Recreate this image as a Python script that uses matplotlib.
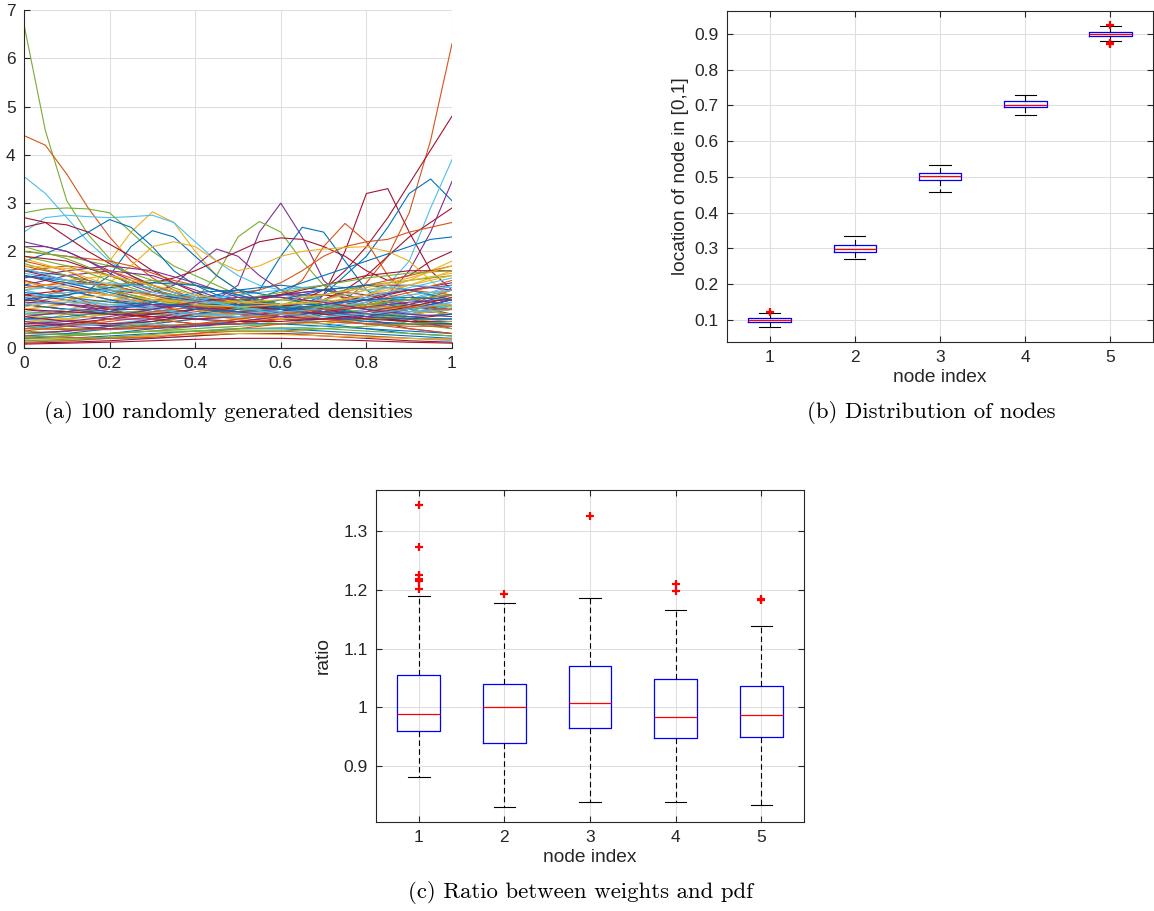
import matplotlib
matplotlib.use("Agg")
import matplotlib.pyplot as plt
import numpy as np

plt.rcParams['font.family'] = ['Liberation Sans', 'DejaVu Sans']

# MATLAB default line colours
COLORS = ["#0072BD", "#D95319", "#EDB120", "#7E2F8E", "#77AC30", "#4DBEEE", "#A2142F"]

# ---- panel (a): densities ----
X_FINE = np.linspace(0, 1, 21)
X_COARSE = np.linspace(0, 1, 11)

strong_colors = ["#77AC30", "#D95319", "#D95319", "#A2142F", "#A2142F", "#0072BD", "#4DBEEE",
                 "#7E2F8E", "#77AC30", "#0072BD", "#D95319", "#EDB120", "#4DBEEE", "#4DBEEE",
                 "#77AC30", "#0072BD", "#0072BD", "#A2142F", "#A2142F", "#7E2F8E", "#0072BD",
                 "#A2142F", "#D95319", "#EDB120"]
strong_curves = [
    [6.7, 4.5, 3.05, 2.35, 1.85, 1.5, 1.25, 1.05, 0.9, 0.8, 0.75, 0.7, 0.7, 0.7, 0.72, 0.75, 0.8, 0.82, 0.8, 0.75, 0.7],
    [4.4, 4.2, 3.6, 2.9, 2.3, 1.8, 1.45, 1.2, 1.0, 0.85, 0.75, 0.7, 0.65, 0.62, 0.6, 0.6, 0.6, 0.62, 0.62, 0.6, 0.6],
    [0.9, 0.85, 0.8, 0.78, 0.75, 0.72, 0.7, 0.68, 0.66, 0.65, 0.65, 0.66, 0.7, 0.75, 0.85, 1.0, 1.35, 1.9, 2.8, 4.3, 6.3],
    [0.5, 0.5, 0.5, 0.48, 0.46, 0.45, 0.45, 0.45, 0.47, 0.5, 0.55, 0.6, 0.7, 1.0, 1.2, 1.6, 2.1, 2.7, 3.4, 4.1, 4.8],
    [0.6, 0.6, 0.58, 0.55, 0.5, 0.48, 0.45, 0.45, 0.45, 0.48, 0.5, 0.55, 0.6, 0.7, 1.1, 2.0, 3.2, 3.3, 2.4, 1.6, 1.2],
    [0.3, 0.32, 0.35, 0.4, 0.45, 0.5, 0.55, 0.6, 0.65, 0.7, 0.75, 0.8, 0.85, 0.9, 1.1, 1.5, 1.9, 2.5, 3.2, 3.5, 3.05],
    [1.0, 0.95, 0.9, 0.85, 0.8, 0.75, 0.7, 0.7, 0.7, 0.72, 0.75, 0.8, 0.85, 0.9, 0.95, 1.0, 1.1, 1.3, 1.8, 2.9, 3.9],
    [0.9, 0.85, 0.8, 0.75, 0.7, 0.7, 0.72, 0.75, 0.8, 1.0, 1.3, 2.4, 3.0, 2.3, 1.4, 1.0, 0.8, 0.7, 0.65, 0.6, 0.6],
    [0.5, 0.55, 0.6, 0.65, 0.7, 0.75, 0.8, 0.9, 1.0, 1.5, 2.3, 2.62, 2.4, 1.8, 1.3, 1.0, 0.85, 0.8, 0.8, 0.85, 0.9],
    [0.7, 0.7, 0.72, 0.75, 0.8, 0.85, 0.9, 0.95, 1.0, 1.05, 1.1, 1.2, 1.9, 2.5, 2.4, 1.8, 1.2, 0.9, 0.8, 0.75, 0.7],
    [0.4, 0.42, 0.45, 0.5, 0.55, 0.6, 0.65, 0.7, 0.75, 0.8, 0.9, 1.0, 1.1, 1.4, 2.1, 2.58, 2.2, 1.5, 1.1, 0.9, 0.8],
    [1.2, 1.1, 1.0, 1.1, 1.8, 2.4, 2.82, 2.6, 2.0, 1.5, 1.2, 1.0, 0.9, 0.85, 0.8, 0.8, 0.85, 0.9, 1.0, 1.1, 1.2],
    [3.55, 3.2, 2.7, 2.2, 1.8, 1.5, 1.3, 1.15, 1.0, 0.9, 0.85, 0.8, 0.8, 0.8, 0.85, 0.9, 0.9, 0.9, 0.85, 0.8, 0.8],
    [2.4, 2.7, 2.75, 2.72, 2.7, 2.72, 2.75, 2.6, 2.2, 1.8, 1.5, 1.3, 1.2, 1.1, 1.0, 0.95, 0.9, 0.9, 0.9, 0.9, 0.9],
    [2.8, 2.88, 2.9, 2.88, 2.8, 2.4, 2.0, 1.7, 1.5, 1.3, 1.1, 1.0, 0.9, 0.85, 0.8, 0.75, 0.7, 0.65, 0.6, 0.6, 0.6],
    [1.8, 1.95, 2.15, 2.4, 2.66, 2.5, 2.1, 1.6, 1.3, 1.1, 1.0, 0.95, 0.9, 0.9, 0.9, 0.95, 1.0, 1.0, 1.0, 0.95, 0.9],
    [1.0, 1.05, 1.1, 1.2, 1.5, 2.1, 2.43, 2.3, 1.9, 1.5, 1.2, 1.0, 0.9, 0.8, 0.75, 0.7, 0.7, 0.7, 0.75, 0.8, 0.8],
    [2.7, 2.6, 2.3, 2.0, 1.75, 1.5, 1.3, 1.15, 1.05, 1.0, 0.95, 0.9, 0.85, 0.8, 0.75, 0.7, 0.65, 0.6, 0.55, 0.5, 0.5],
    [2.5, 2.6, 2.55, 2.4, 2.15, 1.9, 1.6, 1.35, 1.15, 1.0, 0.9, 0.85, 0.85, 0.9, 1.0, 1.2, 1.5, 1.9, 2.3, 2.6, 2.9],
    [2.1, 2.1, 2.0, 1.8, 1.55, 1.3, 1.15, 1.3, 1.7, 2.05, 1.9, 1.5, 1.2, 1.0, 0.9, 0.85, 0.9, 1.1, 1.6, 2.4, 3.45],
    [1.5, 1.45, 1.4, 1.35, 1.3, 1.2, 1.1, 1.0, 0.95, 0.9, 0.95, 1.05, 1.2, 1.35, 1.5, 1.65, 1.8, 1.95, 2.1, 2.25, 2.3],
    [1.6, 1.5, 1.4, 1.35, 1.3, 1.3, 1.35, 1.45, 1.6, 1.8, 2.0, 2.2, 2.28, 2.25, 2.1, 1.9, 1.6, 1.4, 1.5, 1.8, 2.0],
    [2.0, 1.95, 1.9, 1.85, 1.8, 1.7, 1.55, 1.4, 1.3, 1.2, 1.15, 1.2, 1.35, 1.6, 1.9, 2.1, 2.2, 2.25, 2.4, 2.5, 2.6],
    [0.8, 0.85, 0.95, 1.1, 1.35, 1.7, 2.1, 2.2, 2.1, 1.8, 1.6, 1.7, 1.9, 2.0, 2.05, 2.08, 2.1, 2.0, 1.8, 1.4, 1.0],
]

weak_curves = [
    [1.6, 1.5, 1.3, 1.1, 0.9, 0.8, 0.75, 0.8, 0.9, 1.0, 1.1],
    [0.3, 0.35, 0.4, 0.45, 0.5, 0.55, 0.6, 0.6, 0.55, 0.5, 0.45],
    [1.2, 1.4, 1.5, 1.3, 1.0, 0.8, 0.7, 0.8, 1.0, 1.3, 1.6],
    [0.8, 0.7, 0.6, 0.6, 0.7, 0.9, 1.1, 1.2, 1.1, 0.9, 0.7],
    [2.0, 1.9, 1.7, 1.4, 1.1, 0.9, 0.8, 0.7, 0.7, 0.8, 0.9],
    [0.5, 0.6, 0.8, 1.0, 1.1, 1.0, 0.8, 0.6, 0.5, 0.5, 0.6],
    [1.0, 0.9, 0.8, 0.8, 0.9, 1.0, 1.1, 1.1, 1.0, 0.9, 0.8],
    [0.2, 0.2, 0.25, 0.3, 0.35, 0.4, 0.4, 0.35, 0.3, 0.25, 0.2],
    [1.8, 1.6, 1.2, 0.9, 0.7, 0.7, 0.8, 1.0, 1.3, 1.5, 1.7],
    [0.6, 0.8, 1.0, 1.1, 1.0, 0.8, 0.6, 0.5, 0.6, 0.8, 1.1],
    [1.4, 1.2, 1.0, 0.9, 0.9, 1.0, 1.1, 1.0, 0.8, 0.6, 0.4],
    [0.9, 1.1, 1.3, 1.4, 1.3, 1.1, 0.9, 0.8, 0.7, 0.7, 0.8],
    [0.15, 0.15, 0.2, 0.2, 0.25, 0.3, 0.3, 0.3, 0.25, 0.2, 0.15],
    [1.1, 1.0, 0.8, 0.6, 0.5, 0.5, 0.6, 0.8, 1.0, 1.2, 1.3],
    [0.4, 0.5, 0.6, 0.8, 1.0, 1.2, 1.3, 1.2, 1.0, 0.8, 0.7],
    [1.7, 1.5, 1.2, 1.0, 0.8, 0.7, 0.6, 0.6, 0.7, 0.9, 1.2],
    [0.7, 0.6, 0.5, 0.5, 0.6, 0.7, 0.8, 0.9, 0.9, 0.8, 0.7],
    [1.3, 1.5, 1.6, 1.5, 1.2, 0.9, 0.7, 0.6, 0.6, 0.7, 0.9],
    [0.35, 0.3, 0.3, 0.35, 0.45, 0.6, 0.7, 0.75, 0.7, 0.6, 0.5],
    [0.6, 0.5, 0.5, 0.6, 0.8, 1.0, 1.1, 1.0, 0.9, 1.0, 1.3],
    [1.5, 1.3, 1.1, 1.0, 1.0, 0.9, 0.8, 0.7, 0.7, 0.8, 1.0],
    [0.25, 0.3, 0.4, 0.5, 0.6, 0.65, 0.6, 0.5, 0.4, 0.3, 0.25],
    [1.0, 1.2, 1.1, 0.9, 0.7, 0.6, 0.7, 0.9, 1.1, 1.2, 1.1],
    [0.8, 0.9, 1.0, 1.0, 0.9, 0.8, 0.8, 0.9, 1.1, 1.4, 1.8],
    [2.2, 2.0, 1.6, 1.2, 0.9, 0.7, 0.6, 0.6, 0.6, 0.7, 0.8],
    [0.45, 0.4, 0.4, 0.5, 0.7, 0.9, 1.0, 0.9, 0.7, 0.5, 0.4],
    [1.2, 1.0, 0.9, 0.9, 1.0, 1.1, 1.2, 1.3, 1.2, 1.0, 0.8],
    [0.1, 0.12, 0.15, 0.2, 0.25, 0.3, 0.3, 0.25, 0.2, 0.15, 0.12],
    [0.9, 0.8, 0.7, 0.7, 0.8, 0.9, 0.9, 0.8, 0.7, 0.8, 1.0],
    [1.6, 1.7, 1.6, 1.3, 1.0, 0.8, 0.7, 0.6, 0.5, 0.5, 0.5],
    [0.55, 0.6, 0.7, 0.75, 0.7, 0.6, 0.5, 0.5, 0.6, 0.7, 0.8],
    [0.3, 0.35, 0.45, 0.6, 0.8, 0.9, 0.9, 0.8, 0.6, 0.4, 0.3],
    [1.9, 1.7, 1.4, 1.1, 0.9, 0.8, 0.9, 1.1, 1.3, 1.4, 1.5],
    [0.7, 0.8, 0.9, 0.8, 0.6, 0.5, 0.5, 0.6, 0.8, 1.0, 1.2],
    [1.1, 1.2, 1.2, 1.1, 1.0, 0.9, 0.8, 0.7, 0.6, 0.6, 0.7],
    [0.2, 0.25, 0.3, 0.4, 0.5, 0.5, 0.5, 0.45, 0.4, 0.35, 0.3],
    [1.4, 1.1, 0.8, 0.6, 0.5, 0.5, 0.6, 0.7, 0.9, 1.0, 1.1],
    [0.5, 0.7, 0.9, 1.0, 0.9, 0.7, 0.6, 0.7, 0.9, 1.1, 1.2],
    [0.95, 0.9, 0.85, 0.85, 0.9, 1.0, 1.1, 1.2, 1.3, 1.3, 1.2],
    [1.75, 1.5, 1.2, 1.0, 0.85, 0.8, 0.8, 0.85, 0.9, 0.9, 0.85],
    [0.4, 0.45, 0.5, 0.5, 0.45, 0.4, 0.4, 0.45, 0.55, 0.7, 0.9],
    [0.65, 0.55, 0.5, 0.55, 0.7, 0.85, 0.9, 0.8, 0.65, 0.55, 0.5],
    [1.3, 1.2, 1.0, 0.8, 0.7, 0.8, 1.0, 1.2, 1.3, 1.2, 1.0],
    [0.12, 0.15, 0.2, 0.25, 0.3, 0.35, 0.35, 0.3, 0.25, 0.2, 0.18],
    [0.85, 1.0, 1.1, 1.0, 0.8, 0.65, 0.6, 0.65, 0.75, 0.85, 0.9],
    [1.05, 0.9, 0.75, 0.65, 0.6, 0.65, 0.75, 0.9, 1.05, 1.2, 1.35],
    [0.3, 0.28, 0.3, 0.35, 0.4, 0.45, 0.5, 0.55, 0.6, 0.65, 0.7],
    [1.55, 1.4, 1.25, 1.1, 0.95, 0.85, 0.75, 0.7, 0.7, 0.75, 0.8],
    [1.9, 1.8, 1.5, 1.2, 1.0, 1.0, 1.1, 1.3, 1.5, 1.6, 1.6],
    [0.6, 0.65, 0.75, 0.95, 1.15, 1.2, 1.05, 0.85, 0.7, 0.65, 0.7],
    [1.25, 1.35, 1.3, 1.1, 0.85, 0.7, 0.65, 0.75, 0.95, 1.15, 1.4],
    [0.18, 0.2, 0.22, 0.25, 0.28, 0.3, 0.28, 0.25, 0.22, 0.2, 0.18],
    [1.45, 1.6, 1.7, 1.6, 1.35, 1.05, 0.8, 0.7, 0.75, 0.9, 1.1],
    [0.75, 0.7, 0.7, 0.75, 0.85, 1.0, 1.15, 1.3, 1.45, 1.55, 1.6],
    [1.65, 1.4, 1.1, 0.85, 0.7, 0.65, 0.7, 0.85, 1.05, 1.25, 1.45],
    [0.45, 0.5, 0.6, 0.7, 0.8, 0.85, 0.8, 0.7, 0.6, 0.55, 0.55],
    [1.0, 1.1, 1.25, 1.35, 1.3, 1.1, 0.85, 0.65, 0.55, 0.5, 0.5],
    [0.25, 0.22, 0.2, 0.22, 0.3, 0.4, 0.5, 0.55, 0.5, 0.4, 0.3],
    [1.35, 1.25, 1.1, 1.0, 0.95, 0.95, 1.0, 1.1, 1.25, 1.45, 1.7],
    [0.55, 0.45, 0.4, 0.4, 0.45, 0.55, 0.65, 0.75, 0.85, 0.95, 1.0],
    [2.1, 1.85, 1.5, 1.2, 1.0, 0.9, 0.85, 0.85, 0.9, 1.0, 1.1],
    [0.9, 0.95, 0.9, 0.8, 0.7, 0.7, 0.8, 1.0, 1.2, 1.3, 1.25],
    [0.08, 0.1, 0.12, 0.15, 0.18, 0.2, 0.2, 0.18, 0.15, 0.12, 0.1],
    [1.15, 1.05, 0.95, 0.9, 0.9, 0.9, 0.85, 0.75, 0.65, 0.6, 0.6],
    [0.35, 0.45, 0.6, 0.75, 0.85, 0.85, 0.75, 0.6, 0.5, 0.45, 0.45],
    [1.7, 1.65, 1.5, 1.3, 1.1, 0.95, 0.9, 0.95, 1.1, 1.3, 1.5],
    [0.65, 0.75, 0.85, 0.9, 0.85, 0.75, 0.65, 0.6, 0.65, 0.8, 1.0],
    [0.22, 0.25, 0.3, 0.35, 0.35, 0.35, 0.35, 0.4, 0.45, 0.5, 0.55],
    [1.2, 1.3, 1.35, 1.25, 1.05, 0.85, 0.75, 0.8, 0.95, 1.1, 1.2],
    [0.8, 0.75, 0.7, 0.65, 0.6, 0.55, 0.55, 0.6, 0.7, 0.85, 1.05],
    [1.5, 1.35, 1.15, 0.95, 0.8, 0.75, 0.8, 0.9, 1.0, 1.05, 1.0],
    [0.4, 0.38, 0.38, 0.42, 0.5, 0.6, 0.7, 0.8, 0.85, 0.85, 0.8],
    [1.85, 1.6, 1.3, 1.05, 0.9, 0.85, 0.9, 1.0, 1.2, 1.4, 1.55],
    [0.5, 0.55, 0.65, 0.8, 0.95, 1.05, 1.05, 0.95, 0.8, 0.7, 0.65],
    [0.15, 0.18, 0.22, 0.28, 0.35, 0.4, 0.42, 0.4, 0.35, 0.3, 0.25],
    [1.05, 1.15, 1.2, 1.15, 1.0, 0.85, 0.7, 0.65, 0.7, 0.8, 0.95],
]

# ---- panels (b) and (c): box plot summaries ----
node_index = [1, 2, 3, 4, 5]

loc_med = [0.0995, 0.2995, 0.503, 0.702, 0.901]
loc_q1 = [0.095, 0.289, 0.491, 0.695, 0.895]
loc_q3 = [0.105, 0.310, 0.512, 0.711, 0.9065]
loc_lo = [0.080, 0.270, 0.459, 0.673, 0.8795]
loc_hi = [0.120, 0.336, 0.5345, 0.7284, 0.922]
loc_out = [[0.1235], [], [], [], [0.925, 0.8755, 0.871]]

ratio_med = [0.9886, 1.0006, 1.008, 0.984, 0.9864]
ratio_q1 = [0.960, 0.940, 0.9653, 0.948, 0.9494]
ratio_q3 = [1.0557, 1.040, 1.0705, 1.048, 1.037]
ratio_lo = [0.882, 0.830, 0.839, 0.839, 0.834]
ratio_hi = [1.190, 1.177, 1.186, 1.1665, 1.138]
ratio_out = [[1.344, 1.273, 1.226, 1.218, 1.215, 1.201], [1.193], [1.326], [1.210, 1.198], [1.185, 1.182]]

AX_COLOR = "#262626"


def style_axes(ax):
    for s in ax.spines.values():
        s.set_color(AX_COLOR)
        s.set_linewidth(0.8)
    ax.tick_params(direction="in", length=4, width=0.8, colors=AX_COLOR,
                   labelsize=12.5, top=True, right=True, pad=6)
    ax.grid(True, color="#DFDFDF", linewidth=0.8)
    ax.set_axisbelow(True)


def draw_boxes(ax, med, q1, q3, lo, hi, out):
    stats = []
    for i in range(len(med)):
        stats.append(dict(med=med[i], q1=q1[i], q3=q3[i], whislo=lo[i], whishi=hi[i], fliers=out[i]))
    ax.bxp(stats, positions=node_index, widths=0.5, capwidths=0.25,
           boxprops=dict(color="blue", linewidth=0.9),
           medianprops=dict(color="red", linewidth=0.9),
           whiskerprops=dict(color="black", linewidth=0.8, linestyle=(0, (5, 3))),
           capprops=dict(color="black", linewidth=0.8),
           flierprops=dict(marker="+", markeredgecolor="red", markersize=6, markeredgewidth=1.6),
           manage_ticks=False)
    ax.set_xlim(0.5, 5.5)
    ax.set_xticks(node_index)
    ax.set_xlabel("node index", fontsize=13.8, color=AX_COLOR, labelpad=3)


fig = plt.figure(figsize=(11.54, 9.11), dpi=100)

ax_a = fig.add_axes([24 / 1154, 1 - 348 / 911, 428 / 1154, 338 / 911])
for c, ys in zip(strong_colors, strong_curves):
    ax_a.plot(X_FINE, ys, color=c, linewidth=0.8)
for i, ys in enumerate(weak_curves):
    ax_a.plot(X_COARSE, ys, color=COLORS[i % 7], linewidth=0.8)
ax_a.set_xlim(0, 1)
ax_a.set_ylim(0, 7)
ax_a.set_xticks([0, 0.2, 0.4, 0.6, 0.8, 1])
ax_a.set_xticklabels(["0", "0.2", "0.4", "0.6", "0.8", "1"])
ax_a.set_yticks(range(8))
style_axes(ax_a)
ax_a.tick_params(top=False, right=False)
ax_a.spines["top"].set_visible(False)
ax_a.spines["right"].set_visible(False)

ax_b = fig.add_axes([727 / 1154, 1 - 342 / 911, 426 / 1154, 331 / 911])
draw_boxes(ax_b, loc_med, loc_q1, loc_q3, loc_lo, loc_hi, loc_out)
ax_b.set_ylim(0.0385, 0.964)
ax_b.set_yticks([0.1, 0.2, 0.3, 0.4, 0.5, 0.6, 0.7, 0.8, 0.9])
ax_b.set_ylabel("location of node in [0,1]", fontsize=13.8, color=AX_COLOR, labelpad=4)
style_axes(ax_b)

ax_c = fig.add_axes([376 / 1154, 1 - 822 / 911, 428 / 1154, 332 / 911])
draw_boxes(ax_c, ratio_med, ratio_q1, ratio_q3, ratio_lo, ratio_hi, ratio_out)
ax_c.set_ylim(0.805, 1.37)
ax_c.set_yticks([0.9, 1.0, 1.1, 1.2, 1.3])
ax_c.set_yticklabels(["0.9", "1", "1.1", "1.2", "1.3"])
ax_c.set_ylabel("ratio", fontsize=13.8, color=AX_COLOR, labelpad=8)
style_axes(ax_c)

cap = dict(fontsize=16.4, family="cmr10", ha="center", va="center")
fig.text(228.5 / 1154, 1 - 413 / 911, "(a) 100 randomly generated densities", **cap)
fig.text(931 / 1154, 1 - 413 / 911, "(b) Distribution of nodes", **cap)
fig.text(580.5 / 1154, 1 - 893 / 911, "(c) Ratio between weights and pdf", **cap)

fig.savefig("out.png", dpi=100)
